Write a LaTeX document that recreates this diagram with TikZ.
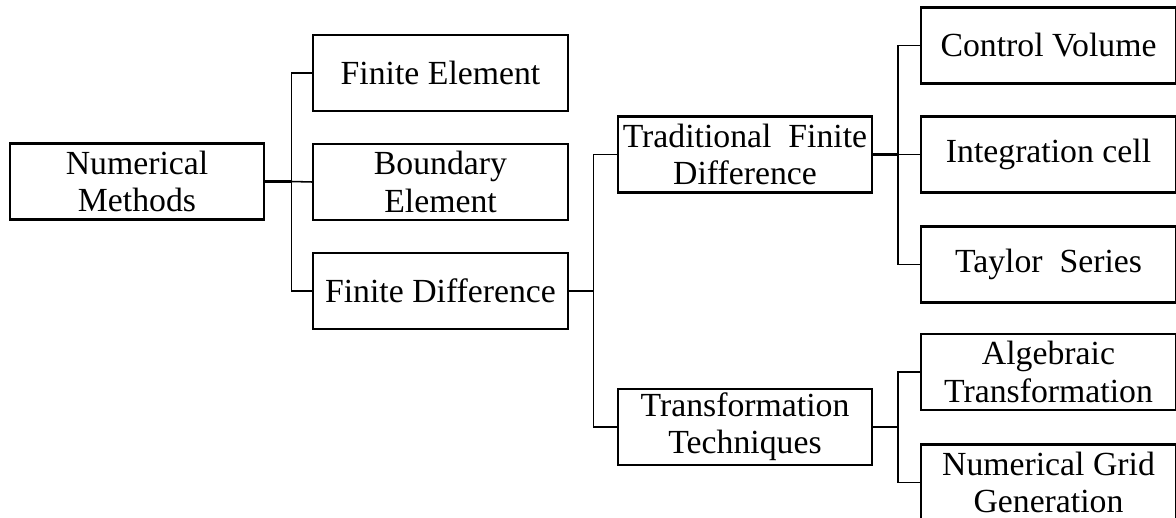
\documentclass[tikz,border=0pt]{standalone}
\usepackage{fontspec}
\setmainfont{Liberation Serif}
\usetikzlibrary{positioning}

\begin{document}
\begin{tikzpicture}[x=0.0125cm,y=-0.0125cm,
                    methodbox/.style={rectangle,
                                      draw=black,
                                      line width=0.75pt,
                                      minimum width=3.18cm,
                                      minimum height=0.95cm,
                                      inner sep=1pt,
                                      align=center,
                                      font=\fontsize{12}{13.2}\selectfont
                                     },
                    branch/.style={line width=0.55pt},
                    stem/.style={line width=1pt}
                   ]
\useasboundingbox (0,0) rectangle (1176,518);
% first level
\node[methodbox] (NM) at (137,181.5) {Numerical\\Methods};
\node[methodbox] (FE) at (440.5,73) {Finite Element};
\node[methodbox] (BE) at (440.5,182) {Boundary\\Element};
\node[methodbox] (FD) at (440.5,291) {Finite Difference};
% second level
\node[methodbox] (TFD) at (745,154.5) {Traditional\ \ Finite\\Difference};
\node[methodbox] (TT) at (745,427) {Transformation\\Techniques};
% third level
\node[methodbox] (CV) at (1048.5,45.5) {Control Volume};
\node[methodbox] (IC) at (1048.5,154.5) {Integration cell};
\node[methodbox] (TS) at (1048.5,264.5) {Taylor\ \ Series};
\node[methodbox] (AT) at (1048.5,372) {Algebraic\\Transformation};
\node[methodbox] (NG) at (1048.5,482.5) {Numerical Grid\\Generation};

\coordinate (J1) at ([xshift=0.325cm]NM.east);
\coordinate (J2) at ([xshift=0.31cm]FD.east);
\coordinate (J3) at ([xshift=0.31cm]TFD.east);
\coordinate (J4) at ([xshift=0.31cm]TT.east);

\draw[stem] (NM.east) -- (J1);
\draw[branch] (FE.west) -| (J1) |- (FD.west);
\draw[branch] (J1) -- (BE.west);

\draw[stem] (FD.east) -- (J2);
\draw[branch] (TFD.west) -| (J2) |- (TT.west);

\draw[stem] (TFD.east) -- (J3);
\draw[branch] (CV.west) -| (J3) |- (TS.west);
\draw[branch] (J3) -- (IC.west);

\draw[stem] (TT.east) -- (J4);
\draw[branch] (AT.west) -| (J4) |- (NG.west);
\end{tikzpicture}
\end{document}
